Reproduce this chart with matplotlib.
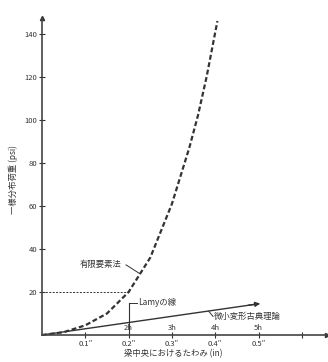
import matplotlib
matplotlib.use("Agg")
import matplotlib.pyplot as plt

plt.rcParams['font.family'] = ['Noto Sans CJK JP', 'DejaVu Sans']

# data (deflection in inches, load in psi)
fem_x = [0.0, 0.05, 0.1, 0.15, 0.2, 0.25, 0.3, 0.32, 0.34, 0.36, 0.38, 0.405]
fem_y = [0.0, 1.3, 4.5, 10.0, 20.0, 36.0, 61.0, 74.0, 87.0, 102.0, 120.0, 146.0]
classic_x = [0.0, 0.5]
classic_y = [0.0, 14.5]
ref_x = 0.2
ref_load = 20
lamy_top = 15
x_ticks = [0.1, 0.2, 0.3, 0.4, 0.5, 0.6]
x_labels = ["0.1″", "0.2″", "0.3″", "0.4″", "0.5″", ""]
h_labels = ["", "2h", "3h", "4h", "5h", ""]
y_ticks = [20, 40, 60, 80, 100, 120, 140]

W, H = 328, 362
fig = plt.figure(figsize=(W / 100, H / 100), dpi=100)
ax = fig.add_axes([42 / W, 27 / H, 285 / W, 317 / H])
ax.set_xlim(0, 0.658)
ax.set_ylim(0, 147.4)
for s in ['top', 'right']:
    ax.spines[s].set_visible(False)
for s in ['left', 'bottom']:
    ax.spines[s].set_color('#444')
    ax.spines[s].set_linewidth(1.2)

c = '#333333'
# axis arrows
ax.plot(1, 0, '>', color=c, ms=3, transform=ax.transAxes, clip_on=False)
ax.plot(0, 1, '^', color=c, ms=3, transform=ax.transAxes, clip_on=False)

ax.set_yticks(y_ticks)
ax.set_yticklabels([str(v) for v in y_ticks])
ax.set_xticks(x_ticks)
ax.set_xticklabels(x_labels)
ax.tick_params(axis='both', direction='inout', length=4, width=0.8,
               colors=c, labelsize=5.5, pad=1.5)

for xv, hl in zip(x_ticks, h_labels):
    if hl:
        ax.text(xv, 1.2, hl, ha='center', va='bottom', fontsize=5.5, color=c)

# FEM curve
ax.plot(fem_x, fem_y, color=c, lw=1.6, ls=(0, (2.2, 1.2)), clip_on=False)
# classical theory line
ax.plot(classic_x, classic_y, color=c, lw=1.0)
ax.annotate('', xy=(classic_x[1] + 0.01, classic_y[1] + 0.3), xytext=(classic_x[1] - 0.03, classic_y[1] - 0.85),
            arrowprops=dict(arrowstyle='-|>', color=c, lw=1.0, mutation_scale=7))
# dashed reference at 20 psi
ax.plot([0, ref_x], [ref_load, ref_load], color=c, lw=0.7, ls=(0, (2, 1.5)))
# Lamy line
ax.plot([ref_x, ref_x], [0, lamy_top], color=c, lw=0.8)
ax.plot([ref_x, ref_x + 0.02], [lamy_top, lamy_top], color=c, lw=0.7)
ax.text(ref_x + 0.022, lamy_top, 'Lamyの線', fontsize=6, va='center', ha='left', color=c)

# FEM label
ax.text(0.136, 32.6, '有限要素法', fontsize=6, ha='center', va='center', color=c)
ax.plot([0.194, 0.226], [32.6, 28.5], color=c, lw=0.7)

# classical label
ax.plot([0.385, 0.395], [11.0, 8.6], color=c, lw=0.7)
ax.text(0.397, 8.4, '微小変形古典理論', fontsize=6, ha='left', va='center', color=c)

ax.text(-0.10, 0.49, '一様分布荷重 (psi)', rotation=90, transform=ax.transAxes,
        ha='center', va='center', fontsize=6, color=c)
fig.text(173 / W, 1 - 354 / H, '梁中央におけるたわみ (in)', ha='center', va='center',
         fontsize=6, color=c)

fig.savefig('out.png', dpi=100)
